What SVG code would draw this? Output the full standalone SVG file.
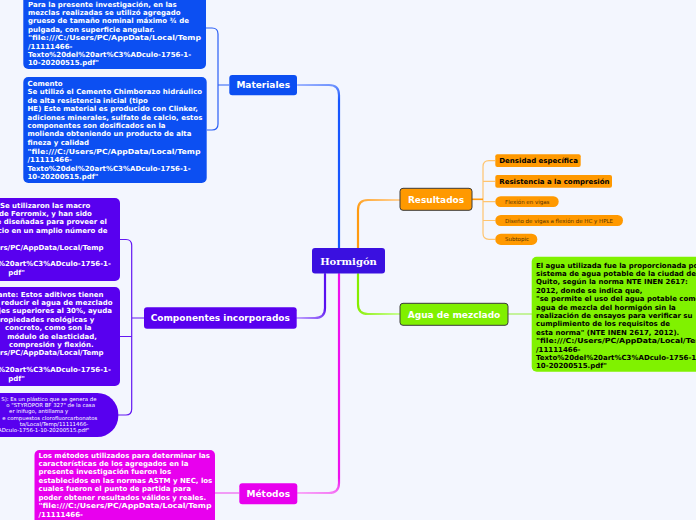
<svg xmlns="http://www.w3.org/2000/svg" width="696" height="520" viewBox="0 0 696 520">
<defs>
<style>
.t{font-family:"DejaVu Sans",Verdana,sans-serif;font-weight:bold;font-size:7px;fill:#fff}
.k{fill:#000}
.lbl{font-family:"DejaVu Sans",Verdana,sans-serif;font-weight:bold;font-size:9px;fill:#fff;text-anchor:middle}
.sm{font-family:"DejaVu Sans",Verdana,sans-serif;font-size:5.4px;fill:#fff}
.pill{font-family:"DejaVu Sans",Verdana,sans-serif;font-size:5.5px;fill:#553300}
.e{text-anchor:end}
.conn{fill:none;stroke-width:2.2;stroke-linecap:round}
.br{fill:none;stroke-width:1.2}
.blue{fill:#0c4ff2}
.purp{fill:#5800ef}
.mag{fill:#e800ee}
.org{fill:#ff9900}
</style>
<linearGradient id="gB" gradientUnits="userSpaceOnUse" x1="339" y1="248" x2="298" y2="85"><stop offset="0" stop-color="#1656ff"/><stop offset="0.85" stop-color="#1656ff"/><stop offset="1" stop-color="#9db3ff"/></linearGradient>
<linearGradient id="gO" gradientUnits="userSpaceOnUse" x1="358" y1="248" x2="400" y2="200"><stop offset="0" stop-color="#ff9a10"/><stop offset="0.45" stop-color="#ff9a10"/><stop offset="1" stop-color="#ffd29a"/></linearGradient>
<linearGradient id="gG" gradientUnits="userSpaceOnUse" x1="358" y1="274" x2="400" y2="314"><stop offset="0" stop-color="#86ee00"/><stop offset="0.4" stop-color="#86ee00"/><stop offset="1" stop-color="#c9ff95"/></linearGradient>
<linearGradient id="gP" gradientUnits="userSpaceOnUse" x1="325" y1="274" x2="297" y2="318"><stop offset="0" stop-color="#5a10f0"/><stop offset="0.55" stop-color="#5a10f0"/><stop offset="1" stop-color="#c0a4ff"/></linearGradient>
<linearGradient id="gM" gradientUnits="userSpaceOnUse" x1="339" y1="274" x2="298" y2="493"><stop offset="0" stop-color="#ee10ee"/><stop offset="0.9" stop-color="#ee10ee"/><stop offset="1" stop-color="#f8a8f8"/></linearGradient>
</defs>
<rect x="0" y="0" width="696" height="520" fill="#f3f6fe"/>

<g id="connectors">
<path class="conn" stroke="url(#gB)" d="M339 248 V95 Q339 85 329 85 H298"/>
<path class="conn" stroke="url(#gO)" d="M358 248 V210 Q358 200 368 200 H400"/>
<path class="conn" stroke="url(#gG)" d="M358 274 V304 Q358 314 368 314 H400"/>
<path class="conn" stroke="url(#gP)" d="M325 274 V308 Q325 318 315 318 H297"/>
<path class="conn" stroke="url(#gM)" d="M339 274 V483 Q339 493 329 493 H298"/>
<path class="br" stroke="#2a5ef5" d="M206 28 H212 Q218 28 218 34 V124 Q218 130 212 130 H207 M218 85 H229"/>
<path class="br" stroke="#6418f2" d="M120 239.5 H126 Q131.7 239.5 131.7 245.5 V409 Q131.7 415 126 415 H118 M120 336.5 H131.7 M131.7 318 H144"/>
<path class="br" stroke="#ffc46e" d="M495 160.7 H489 Q483 160.7 483 166.7 V233.3 Q483 239.3 489 239.3 H495 M483 181.3 H495 M483 201.7 H495 M483 220.5 H495"/>
<path fill="none" stroke="#ff9a10" stroke-width="1.6" d="M472 199.3 H483"/>
<path class="br" stroke="#f060f0" d="M215 493 H239"/>
<path class="br" stroke="#a6f05a" d="M508 314 H532"/>
</g>

<g id="hormigon">
<rect x="312" y="248" width="73" height="25.5" rx="3" fill="#3a10e0"/>
<text x="348.5" y="264.5" font-family="'DejaVu Serif',Georgia,serif" font-weight="bold" font-size="10" fill="#fff" text-anchor="middle">Hormigón</text>
</g>

<g id="materiales">
<rect class="blue" x="229.3" y="75" width="67.7" height="20.3" rx="3"/>
<text class="lbl" x="263.2" y="88.4">Materiales</text>
</g>

<g id="agregado">
<rect class="blue" x="23.3" y="-14" width="182.7" height="83" rx="5"/>
<text class="t" x="28">
<tspan x="28" y="6.5">Para la presente investigación, en las</tspan>
<tspan x="28" y="14.9">mezclas realizadas se utilizó agregado</tspan>
<tspan x="28" y="23.3">grueso de tamaño nominal máximo ¾ de</tspan>
<tspan x="28" y="31.7">pulgada, con superficie angular.</tspan>
<tspan x="28" y="40.1" textLength="173" lengthAdjust="spacingAndGlyphs">"file:///C:/Users/PC/AppData/Local/Temp</tspan>
<tspan x="28" y="48.5">/11111466-</tspan>
<tspan x="28" y="56.9">Texto%20del%20art%C3%ADculo-1756-1-</tspan>
<tspan x="28" y="65.3">10-20200515.pdf"</tspan>
</text>
</g>

<g id="cemento">
<rect class="blue" x="23.3" y="77" width="183.4" height="106" rx="5"/>
<text class="t">
<tspan x="27.5" y="86">Cemento</tspan>
<tspan x="27.5" y="94.4">Se utilizó el Cemento Chimborazo hidráulico</tspan>
<tspan x="27.5" y="102.8">de alta resistencia inicial (tipo</tspan>
<tspan x="27.5" y="111.2">HE) Este material es producido con Clinker,</tspan>
<tspan x="27.5" y="119.6">adiciones minerales, sulfato de calcio, estos</tspan>
<tspan x="27.5" y="128">componentes son dosificados en la</tspan>
<tspan x="27.5" y="136.4">molienda obteniendo un producto de alta</tspan>
<tspan x="27.5" y="144.8">fineza y calidad</tspan>
<tspan x="27.5" y="154" textLength="173" lengthAdjust="spacingAndGlyphs">"file:///C:/Users/PC/AppData/Local/Temp</tspan>
<tspan x="27.5" y="162.4">/11111466-</tspan>
<tspan x="27.5" y="170.8">Texto%20del%20art%C3%ADculo-1756-1-</tspan>
<tspan x="27.5" y="179.2">10-20200515.pdf"</tspan>
</text>
</g>

<g id="componentes">
<rect class="purp" x="144" y="307.3" width="152.7" height="21.4" rx="3"/>
<text class="lbl" x="220.3" y="321.3">Componentes incorporados</text>
</g>

<g id="fibras">
<rect class="purp" x="-10" y="198" width="130" height="83" rx="5"/>
<text class="t e">
<tspan x="92.7" y="207.5">: Se utilizaron las macro</tspan>
<tspan x="94.3" y="215.9">s de Ferromix, y han sido</tspan>
<tspan x="109.3" y="224.3">e diseñadas para proveer el</tspan>
<tspan x="110" y="232.7">cio en un amplio número de</tspan>
<tspan x="106" y="249.5">ers/PC/AppData/Local/Temp</tspan>
<tspan x="113.3" y="266.3">%20art%C3%ADculo-1756-1-</tspan>
<tspan x="25" y="274.7">pdf"</tspan>
</text>
</g>

<g id="aditivo">
<rect class="purp" x="-10" y="287" width="130" height="99" rx="5"/>
<text class="t e">
<tspan x="106" y="296.5">cante: Estos aditivos tienen</tspan>
<tspan x="115" y="304.9">e reducir el agua de mezclado</tspan>
<tspan x="114.3" y="313.3">jes superiores al 30%, ayuda</tspan>
<tspan x="96.7" y="321.7">propiedades reológicas y</tspan>
<tspan x="94" y="330.1">concreto, como son la</tspan>
<tspan x="99.3" y="338.5">módulo de elasticidad,</tspan>
<tspan x="96" y="346.9">compresión y flexión.</tspan>
<tspan x="106" y="355.3">ers/PC/AppData/Local/Temp</tspan>
<tspan x="113.3" y="372.1">%20art%C3%ADculo-1756-1-</tspan>
<tspan x="25" y="380.5">pdf"</tspan>
</text>
</g>

<g id="eps">
<rect class="purp" x="-30" y="393" width="148.3" height="44" rx="21"/>
<text class="sm e">
<tspan x="98.3" y="400.7">S): Es un plástico que se genera de</tspan>
<tspan x="96.7" y="407">o "STYROPOR BF 327" de la casa</tspan>
<tspan x="70" y="413.3">er inifugo, antillama y</tspan>
<tspan x="99" y="419.5">e compuestos clorofluorcarbonatos</tspan>
<tspan x="90" y="425.8">ta/Local/Temp/11111466-</tspan>
<tspan x="89.3" y="432">ADculo-1756-1-10-20200515.pdf"</tspan>
</text>
</g>

<g id="metodos">
<rect class="mag" x="239.3" y="483.3" width="58" height="21" rx="3"/>
<text class="lbl" x="268.3" y="497">Métodos</text>
</g>

<g id="metodos-texto">
<rect class="mag" x="34.5" y="450" width="180.5" height="90" rx="5"/>
<text class="t">
<tspan x="38.5" y="457.5">Los métodos utilizados para determinar las</tspan>
<tspan x="38.5" y="465.9">características de los agregados en la</tspan>
<tspan x="38.5" y="474.3">presente investigación fueron los</tspan>
<tspan x="38.5" y="482.7">establecidos en las normas ASTM y NEC, los</tspan>
<tspan x="38.5" y="491.1">cuales fueron el punto de partida para</tspan>
<tspan x="38.5" y="499.5">poder obtener resultados válidos y reales.</tspan>
<tspan x="38.5" y="508.3" textLength="173" lengthAdjust="spacingAndGlyphs">"file:///C:/Users/PC/AppData/Local/Temp</tspan>
<tspan x="38.5" y="516.7">/11111466-</tspan>
</text>
</g>

<g id="resultados">
<rect class="org" x="400" y="188.3" width="72" height="22" rx="3" stroke="#3a3a3a" stroke-width="1"/>
<text class="lbl k" x="436" y="202.6">Resultados</text>
</g>

<g id="densidad">
<rect class="org" x="495.3" y="154.3" width="85.4" height="12.7" rx="2"/>
<text class="t k" x="499.3" y="163.2">Densidad específica</text>
</g>
<g id="resistencia">
<rect class="org" x="495.3" y="175" width="116.7" height="12.7" rx="2"/>
<text class="t k" x="499.3" y="183.8">Resistencia a la compresión</text>
</g>
<g id="flexion">
<rect class="org" x="495.3" y="196.3" width="63.4" height="10.7" rx="5.3"/>
<text class="pill" x="505" y="203.7">Flexión en vigas</text>
</g>
<g id="diseno">
<rect class="org" x="495.3" y="215" width="127.7" height="11" rx="5.5"/>
<text class="pill" x="505" y="222.5">Diseño de vigas a flexión de HC y HPLE</text>
</g>
<g id="subtopic">
<rect class="org" x="495.3" y="233.7" width="42" height="11.3" rx="5.6"/>
<text class="pill" x="505" y="241.3">Subtopic</text>
</g>

<g id="agua">
<rect x="400" y="303.3" width="108" height="22" rx="3" fill="#80f000" stroke="#3a3a3a" stroke-width="1"/>
<text class="lbl k" x="454" y="317.6">Agua de mezclado</text>
</g>

<g id="agua-texto">
<rect x="531.7" y="256.7" width="180" height="115" rx="5" fill="#80f200"/>
<text class="t k">
<tspan x="536" y="267.5">El agua utilizada fue la proporcionada por el</tspan>
<tspan x="536" y="275.9">sistema de agua potable de la ciudad de</tspan>
<tspan x="536" y="284.3">Quito, según la norma NTE INEN 2617:</tspan>
<tspan x="536" y="292.7">2012, donde se indica que,</tspan>
<tspan x="536" y="301.1">"se permite el uso del agua potable como</tspan>
<tspan x="536" y="309.5">agua de mezcla del hormigón sin la</tspan>
<tspan x="536" y="317.9">realización de ensayos para verificar su</tspan>
<tspan x="536" y="326.3">cumplimiento de los requisitos de</tspan>
<tspan x="536" y="334.7">esta norma" (NTE INEN 2617, 2012).</tspan>
<tspan x="536" y="343.1" textLength="173" lengthAdjust="spacingAndGlyphs">"file:///C:/Users/PC/AppData/Local/Temp</tspan>
<tspan x="536" y="351.5">/11111466-</tspan>
<tspan x="536" y="359.9">Texto%20del%20art%C3%ADculo-1756-1-</tspan>
<tspan x="536" y="368.3">10-20200515.pdf"</tspan>
</text>
</g>
</svg>
